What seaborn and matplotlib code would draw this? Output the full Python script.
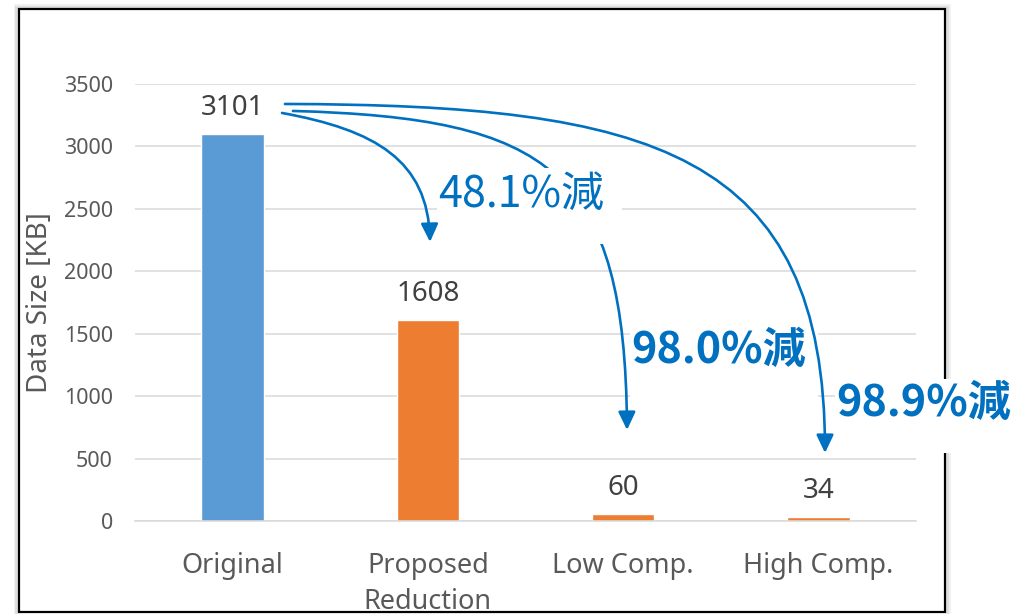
import matplotlib
matplotlib.use("Agg")
import matplotlib.pyplot as plt
from matplotlib.patches import Rectangle, FancyArrowPatch, ArrowStyle
from matplotlib.path import Path
import seaborn as sns

# ---- data -------------------------------------------------------------
categories = ["Original", "Proposed\nReduction", "Low Comp.", "High Comp."]
sizes_kb = [3101, 1608, 60, 34]
reduction_labels = ["48.1%減", "98.0%減", "98.9%減"]
y_ticks = [0, 500, 1000, 1500, 2000, 2500, 3000, 3500]

# ---- style ------------------------------------------------------------
BLUE = "#5B9BD5"
ORANGE = "#ED7D31"
ARROW = "#0070C0"
GRID = "#D9D9D9"
TICK = "#595959"
VALUE = "#404040"

sns.set_theme(style="white")
plt.rcParams["font.family"] = ["Noto Sans", "Noto Sans CJK JP", "DejaVu Sans"]
CJK = ["Noto Sans CJK JP", "Noto Sans", "DejaVu Sans"]

fig = plt.figure(figsize=(10.12, 6.14), dpi=100)
fig.patch.set_facecolor("white")
ax = fig.add_axes([135 / 1012, 1 - 521 / 614, (916 - 135) / 1012, (521 - 84) / 614])

palette = [BLUE, ORANGE, ORANGE, ORANGE]
sns.barplot(x=categories, y=sizes_kb, hue=categories, palette=palette,
            width=0.32, saturation=1, legend=False, ax=ax, zorder=2)

ax.set_xlim(-0.5, 3.5)
ax.set_ylim(0, 3500)
ax.set_yticks(y_ticks)
ax.yaxis.grid(True, color=GRID, linewidth=1.1, zorder=0)
ax.set_axisbelow(True)
for side in ["top", "right", "left"]:
    ax.spines[side].set_visible(False)
ax.spines["bottom"].set_color(GRID)
ax.spines["bottom"].set_linewidth(1.1)
ax.tick_params(axis="both", length=0)
ax.tick_params(axis="y", labelsize=15.5, labelcolor=TICK, pad=16)
ax.tick_params(axis="x", labelsize=19.5, labelcolor=TICK, pad=22)
for lab in ax.get_xticklabels():
    lab.set_linespacing(1.42)
ax.set_xlabel("")
ax.set_ylabel("Data Size [KB]", fontsize=20, color=TICK, labelpad=7)

# value labels above bars
for i, v in enumerate(sizes_kb):
    ax.annotate(f"{v}", xy=(i, v), xytext=(0, 13.5), textcoords="offset points",
                ha="center", va="baseline", fontsize=20, color=VALUE)

# ---- reduction arrows (cubic Bezier curves, data coordinates) ---------
# the middle curve runs underneath the first label panel
curves = [
    ([(0.253, 3268), (0.729, 3132), (1.000, 2891), (1.011, 2235)], 6.5),
    ([(0.309, 3284), (1.626, 3228), (2.010, 2811), (2.020, 729)], 4),
    ([(0.268, 3340), (2.138, 3332), (3.034, 2971), (3.034, 545)], 6.5),
]
codes = [Path.MOVETO, Path.CURVE4, Path.CURVE4, Path.CURVE4]
for pts, z in curves:
    arr = FancyArrowPatch(path=Path(pts, codes),
                          arrowstyle=ArrowStyle("-|>", head_length=0.42, head_width=0.2),
                          mutation_scale=26, color=ARROW, linewidth=1.9,
                          clip_on=False, zorder=z)
    ax.add_patch(arr)

# white label panels (x0, x1, y0, y1) and label anchors
panels = [(1.047, 1.994, 2219, 2827), (2.035, 2.998, 889, 1770), (3.085, 3.981, 545, 1137)]
anchors = [(1.052, 2611), (2.040, 1370), (3.090, 945)]
weights = ["normal", "bold", "bold"]
for (x0, x1, y0, y1), (tx, ty), text, w in zip(panels, anchors, reduction_labels, weights):
    ax.add_patch(Rectangle((x0, y0), x1 - x0, y1 - y0, facecolor="white",
                           edgecolor="none", clip_on=False, zorder=6))
    ax.text(tx, ty, text, ha="left", va="center", fontsize=31, color=ARROW,
            fontweight=w, family=CJK, zorder=7, clip_on=False)

# ---- outer frame with soft shadow ------------------------------------
fx0, fx1, fy0, fy1 = 19 / 1012, 945 / 1012, 1 - 612 / 614, 1 - 9 / 614
for grow, col in [(4, "#F0F0F0"), (2.5, "#DDDDDD")]:
    gx, gy = grow / 1012, grow / 614
    ax.add_patch(Rectangle((fx0 - gx, fy0 - gy), fx1 - fx0 + 2 * gx, fy1 - fy0 + 2 * gy,
                           transform=fig.transFigure, fill=False, edgecolor=col,
                           linewidth=2, clip_on=False, zorder=5))
ax.add_patch(Rectangle((fx0, fy0), fx1 - fx0, fy1 - fy0, transform=fig.transFigure,
                       fill=False, edgecolor="black", linewidth=1.6,
                       clip_on=False, zorder=5.5))

fig.savefig("out.png", dpi=100)
